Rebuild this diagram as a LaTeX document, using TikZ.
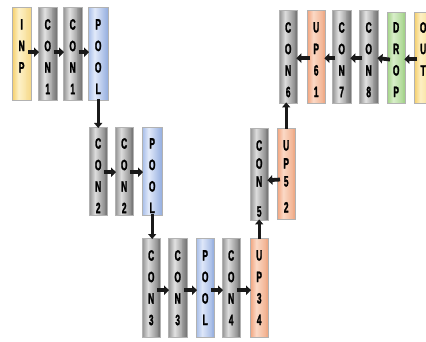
\documentclass[tikz,border=0pt]{standalone}
\usepackage{fontspec}
\newfontfamily\boxfont[FakeStretch=0.56, FakeBold=1.6]{Liberation Sans Bold}
\usetikzlibrary{arrows.meta,calc}
\definecolor{yelA}{HTML}{F4CB60}
\definecolor{yelB}{HTML}{FDF1C8}
\definecolor{yelC}{HTML}{F6D98A}
\definecolor{bluA}{HTML}{9FB8E6}
\definecolor{bluB}{HTML}{E2EAFA}
\definecolor{bluC}{HTML}{97B0E0}
\definecolor{orgA}{HTML}{F09E76}
\definecolor{orgB}{HTML}{FCDCCA}
\definecolor{orgC}{HTML}{EFA884}
\definecolor{grnA}{HTML}{9CCF7E}
\definecolor{grnB}{HTML}{DCF0CE}
\definecolor{grnC}{HTML}{A2D288}
\definecolor{gryA}{HTML}{8A8A8A}
\definecolor{gryB}{HTML}{E2E2E2}
\definecolor{gryC}{HTML}{767676}
% vertical-strip gradient: left colour, light colour, right colour
\newcommand\gradfill[3]{%
  \foreach \i in {0,...,19}{%
    \ifnum\i<7
      \pgfmathtruncatemacro\pp{(\i+0.5)*100/7}%
      \colorlet{stripc}{#2!\pp!#1}%
    \else
      \pgfmathtruncatemacro\pp{(19.5-\i)*100/13}%
      \colorlet{stripc}{#2!\pp!#3}%
    \fi
    \fill[stripc]
      ($(path picture bounding box.south west)!{\i/20}!(path picture bounding box.south east)$)
      rectangle
      ($(path picture bounding box.north west)!{(\i+1.1)/20}!(path picture bounding box.north east)$);
  }}
\tikzset{
  box/.style={draw=gray!60, line width=0.4pt, anchor=north west, inner sep=0pt},
  gbox/.style={box, path picture={\gradfill{gryA}{gryB}{gryC}}},
  ybox/.style={box, path picture={\gradfill{yelA}{yelB}{yelC}}},
  bbox/.style={box, path picture={\gradfill{bluA}{bluB}{bluC}}},
  obox/.style={box, path picture={\gradfill{orgA}{orgB}{orgC}}},
  gnbox/.style={box, path picture={\gradfill{grnA}{grnB}{grnC}}},
  lbl/.style={anchor=north, inner sep=0pt, align=center,
    font=\boxfont\fontsize{15}{21.5}\selectfont, text=black},
  slbl/.style={lbl, font=\boxfont\fontsize{15}{18}\selectfont},
  harr/.style={line width=3.8pt, black!90, -{Triangle[length=5pt,width=9.5pt]},
    shorten <=-3pt, shorten >=-1pt},
  varr/.style={line width=3.2pt, black!90, -{Triangle[length=5pt,width=8pt]},
    shorten <=-1pt, shorten >=-1pt},
}
\begin{document}
\begin{tikzpicture}[x=1pt,y=-1pt]
\path[use as bounding box] (0,0) rectangle (426,342);
\clip (0,0) rectangle (426,342);
\fill[white] (0,0) rectangle (426,342);

% row 1 (encoder top)
\node[ybox, minimum width=19pt, minimum height=93pt] (inp) at (12,7) {};
\node[gbox, minimum width=19pt, minimum height=93pt] (c1a) at (38,7) {};
\node[gbox, minimum width=19pt, minimum height=93pt] (c1b) at (63,7) {};
\node[bbox, minimum width=20pt, minimum height=93pt] (p1) at (88,7) {};
% row 2
\node[gbox, minimum width=18pt, minimum height=88pt] (c2a) at (89,127) {};
\node[gbox, minimum width=18pt, minimum height=88pt] (c2b) at (115,127) {};
\node[bbox, minimum width=20pt, minimum height=88pt] (p2) at (142,127) {};
% row 3
\node[gbox, minimum width=18pt, minimum height=99pt] (c3a) at (142,238) {};
\node[gbox, minimum width=19pt, minimum height=99pt] (c3b) at (168,238) {};
\node[bbox, minimum width=18pt, minimum height=99pt] (p3) at (196,238) {};
\node[gbox, minimum width=18pt, minimum height=99pt] (c4) at (222,238) {};
\node[obox, minimum width=18pt, minimum height=99pt] (up34) at (250,238) {};
% middle column
\node[gbox, minimum width=18pt, minimum height=92pt] (c5) at (250,128) {};
\node[obox, minimum width=18pt, minimum height=91pt] (up5) at (277,128) {};
% row 1 (decoder top)
\node[gbox, minimum width=18pt, minimum height=93pt] (c6) at (279,10) {};
\node[obox, minimum width=18pt, minimum height=93pt] (up61) at (307,10) {};
\node[gbox, minimum width=19pt, minimum height=93pt] (c7) at (332,10) {};
\node[gbox, minimum width=19pt, minimum height=93pt] (c8) at (359,10) {};
\node[gnbox, minimum width=18pt, minimum height=91pt] (drop) at (387,12) {};
\node[ybox, minimum width=18pt, minimum height=91pt] (out) at (414,12) {};

% labels
\node[lbl] (tinp) at ([yshift=-12pt]inp.north) {I\\N\\P};
\node[lbl] (tc1a) at ([yshift=-12pt]c1a.north) {C\\O\\N\\1};
\node[lbl] (tc1b) at ([yshift=-12pt]c1b.north) {C\\O\\N\\1};
\node[lbl] (tp1) at ([yshift=-12pt]p1.north) {P\\O\\O\\L};
\node[lbl] (tc2a) at ([yshift=-11pt]c2a.north) {C\\O\\N\\2};
\node[lbl] (tc2b) at ([yshift=-11pt]c2b.north) {C\\O\\N\\2};
\node[lbl] (tp2) at ([yshift=-11pt]p2.north) {P\\O\\O\\L};
\node[lbl] (tc3a) at ([yshift=-12pt]c3a.north) {C\\O\\N\\3};
\node[lbl] (tc3b) at ([yshift=-12pt]c3b.north) {C\\O\\N\\3};
\node[lbl] (tp3) at ([yshift=-12pt]p3.north) {P\\O\\O\\L};
\node[lbl] (tc4) at ([yshift=-12pt]c4.north) {C\\O\\N\\4};
\node[lbl] (tup34) at ([yshift=-12pt]up34.north) {U\\P\\3\\4};
\begin{scope}
  \clip (c5.south west) rectangle (c5.north east);
  \node[slbl] (tc5) at ([yshift=-12pt]c5.north) {C\\O\\N\\[12pt]5};
\end{scope}
\begin{scope}
  \clip (up5.south west) rectangle (up5.north east);
  \node[slbl] (tup5) at ([yshift=-12pt]up5.north) {U\\P\\5\\[8pt]2};
\end{scope}
\node[lbl] (tc6) at ([yshift=-12pt]c6.north) {C\\O\\N\\6};
\node[lbl] (tup61) at ([yshift=-12pt]up61.north) {U\\P\\6\\1};
\node[lbl] (tc7) at ([yshift=-12pt]c7.north) {C\\O\\N\\7};
\node[lbl] (tc8) at ([yshift=-12pt]c8.north) {C\\O\\N\\8};
\node[lbl] (tdrop) at ([yshift=-10pt]drop.north) {D\\R\\O\\P};
\node[lbl] (tout) at ([yshift=-10pt]out.north) {O\\U\\T};

% arrows
\draw[harr] ([yshift=1.5pt]inp.east) -- ([yshift=1.5pt]c1a.west);
\draw[harr] ([yshift=1.5pt]c1a.east) -- ([yshift=1.5pt]c1b.west);
\draw[harr] ([yshift=1.5pt]c1b.east) -- ([yshift=1.5pt]p1.west);
\draw[varr] (p1.south) -- (c2a.north);
\draw[harr] ([yshift=-1pt]c2a.east) -- ([yshift=-1pt]c2b.west);
\draw[harr] ([yshift=-1pt]c2b.east) -- ([yshift=-1pt]p2.west);
\draw[varr] (p2.south) -- (p2.south |- c3a.north);
\draw[harr] ([yshift=-2.5pt]c3a.east) -- ([yshift=-2.5pt]c3b.west);
\draw[harr] ([yshift=-2.5pt]c3b.east) -- ([yshift=-2.5pt]p3.west);
\draw[harr] ([yshift=-2.5pt]p3.east) -- ([yshift=-2.5pt]c4.west);
\draw[harr] ([yshift=-2.5pt]c4.east) -- ([yshift=-2.5pt]up34.west);
\draw[varr] (up34.north) -- (c5.south);
\draw[harr] ([yshift=-6pt]up5.west) -- ([yshift=-6pt]c5.east);
\draw[varr] (up5.north) -- (up5.north |- c6.south);
\draw[harr] ([yshift=-1.5pt]up61.west) -- ([yshift=-1.5pt]c6.east);
\draw[harr] ([yshift=-1.5pt]c7.west) -- ([yshift=-1.5pt]up61.east);
\draw[harr] ([yshift=-1.5pt]c8.west) -- ([yshift=-1.5pt]c7.east);
\draw[harr] ([yshift=-1.5pt]drop.west) -- ([yshift=-1.5pt]c8.east);
\draw[harr] ([yshift=-1.5pt]out.west) -- ([yshift=-1.5pt]drop.east);
\end{tikzpicture}
\end{document}
